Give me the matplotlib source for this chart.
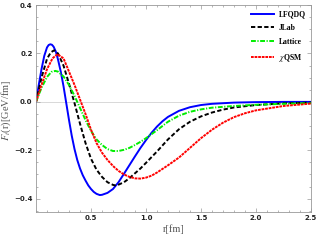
import matplotlib
matplotlib.use("Agg")
import matplotlib.pyplot as plt
from matplotlib.ticker import MultipleLocator, FixedLocator, FuncFormatter

plt.rcParams["mathtext.fontset"] = "stix"

# ---- data ----
r_lfqdq = [0, 0.025, 0.05, 0.075, 0.1, 0.115, 0.13, 0.145, 0.16, 0.18, 0.2, 0.225, 0.25,
           0.275, 0.3, 0.325, 0.35, 0.375, 0.4, 0.425, 0.45, 0.475, 0.5, 0.525, 0.55, 0.58,
           0.6, 0.65, 0.7, 0.75, 0.8, 0.85, 0.9, 0.95, 1.0, 1.05, 1.1, 1.15, 1.2, 1.3,
           1.4, 1.5, 1.6, 1.8, 2.0, 2.25, 2.5]
f_lfqdq = [0, 0.07, 0.135, 0.19, 0.225, 0.235, 0.238, 0.236, 0.228, 0.208, 0.175, 0.125,
           0.065, -0.005, -0.075, -0.14, -0.195, -0.24, -0.275, -0.303, -0.325, -0.345,
           -0.36, -0.372, -0.38, -0.385, -0.384, -0.376, -0.36, -0.332, -0.297, -0.261,
           -0.225, -0.19, -0.158, -0.128, -0.102, -0.08, -0.062, -0.037, -0.022, -0.013,
           -0.008, -0.003, -0.001, 0.0, 0.0]

r_jlab = [0, 0.05, 0.1, 0.135, 0.165, 0.2, 0.25, 0.3, 0.35, 0.4, 0.45, 0.5, 0.55, 0.6,
          0.65, 0.7, 0.72, 0.75, 0.8, 0.85, 0.9, 0.95, 1.0, 1.1, 1.2, 1.3, 1.4, 1.5, 1.6,
          1.7, 1.8, 2.0, 2.25, 2.5]
f_jlab = [0, 0.1, 0.178, 0.205, 0.213, 0.2, 0.15, 0.075, -0.005, -0.09, -0.17, -0.235,
          -0.28, -0.31, -0.332, -0.343, -0.345, -0.342, -0.332, -0.315, -0.295, -0.275,
          -0.252, -0.205, -0.155, -0.113, -0.082, -0.06, -0.044, -0.032, -0.023, -0.013,
          -0.006, -0.003]

r_lattice = [0, 0.05, 0.1, 0.14, 0.175, 0.2, 0.25, 0.3, 0.35, 0.4, 0.45, 0.5, 0.55, 0.6,
             0.65, 0.7, 0.75, 0.8, 0.85, 0.9, 0.95, 1.0, 1.1, 1.2, 1.3, 1.4, 1.5, 1.6,
             1.8, 2.0, 2.25, 2.5]
f_lattice = [0, 0.058, 0.103, 0.124, 0.128, 0.125, 0.105, 0.07, 0.025, -0.025, -0.075,
             -0.12, -0.155, -0.178, -0.195, -0.203, -0.203, -0.198, -0.19, -0.178, -0.165,
             -0.15, -0.117, -0.082, -0.057, -0.041, -0.031, -0.024, -0.017, -0.012,
             -0.008, -0.005]

r_xqsm = [0, 0.05, 0.1, 0.15, 0.195, 0.25, 0.3, 0.35, 0.4, 0.45, 0.5, 0.55, 0.6, 0.65,
          0.7, 0.75, 0.8, 0.85, 0.9, 0.95, 1.0, 1.05, 1.1, 1.2, 1.3, 1.4, 1.5, 1.6, 1.7,
          1.8, 1.9, 2.0, 2.25, 2.5]
f_xqsm = [0, 0.07, 0.135, 0.18, 0.197, 0.18, 0.125, 0.07, 0.01, -0.05, -0.115, -0.17,
          -0.21, -0.24, -0.265, -0.285, -0.3, -0.31, -0.316, -0.317, -0.313, -0.305,
          -0.292, -0.262, -0.23, -0.19, -0.15, -0.115, -0.086, -0.063, -0.047, -0.035,
          -0.017, -0.007]

labels = ["LFQDQ", "JLab", "Lattice", r"$\chi$QSM"]
x_ticks = [0.5, 1.0, 1.5, 2.0, 2.5]
y_ticks = [-0.4, -0.2, 0.0, 0.2, 0.4]

fig = plt.figure(figsize=(3.17, 2.42), dpi=100)
ax = fig.add_axes([0.1136, 0.124, 0.981 - 0.1136, 0.979 - 0.124])

ax.axhline(0, color="#d8d8d8", lw=0.7, zorder=0)

ax.plot(r_lfqdq, f_lfqdq, color="#0000ff", lw=1.4, ls="-", label=labels[0])
ax.plot(r_jlab, f_jlab, color="black", lw=1.4, ls=(0, (2.2, 1.2)), label=labels[1])
ax.plot(r_lattice, f_lattice, color="#00ee00", lw=1.4, ls=(0, (2.5, 0.8, 0.6, 0.8)), label=labels[2])
ax.plot(r_xqsm, f_xqsm, color="#ff0000", lw=1.4, ls=(0, (1.4, 0.45)), label=labels[3])

ax.set_xlim(0, 2.5)
ax.set_ylim(-0.455, 0.4)

ax.xaxis.set_major_locator(FixedLocator(x_ticks))
ax.xaxis.set_minor_locator(MultipleLocator(0.1))
ax.yaxis.set_major_locator(FixedLocator(y_ticks))
ax.yaxis.set_minor_locator(MultipleLocator(0.05))
ax.yaxis.set_major_formatter(FuncFormatter(lambda v, p: ("%.1f" % v).replace("-", "\u2212")))
ax.xaxis.set_major_formatter(FuncFormatter(lambda v, p: "%.1f" % v))

for s in ax.spines.values():
    s.set_color("#999999")
    s.set_linewidth(0.6)
ax.tick_params(which="both", direction="in", top=True, right=True, color="#999999", width=0.5)
ax.tick_params(which="major", length=3.0, labelsize=5, pad=2.5)
ax.tick_params(which="minor", length=1.5)
for t in ax.get_xticklabels() + ax.get_yticklabels():
    t.set_fontweight("bold")
    t.set_color("#222222")

ax.set_xlabel("r[fm]", family="Liberation Serif", fontsize=7.5, color="#555555", labelpad=2)
ax.set_ylabel(r"$F_t$(r)[GeV/fm]", family="Liberation Serif", fontsize=7.5, color="#555555")
ax.yaxis.set_label_coords(-0.082, 0.49)

leg = ax.legend(loc="upper right", frameon=False, prop={"family": "Liberation Serif", "weight": "bold", "size": 5.5},
                handlelength=3.0, handletextpad=0.6, labelspacing=0.75, borderaxespad=0.3,
                bbox_to_anchor=(1.0, 1.0))

fig.savefig("out.png", dpi=100)
